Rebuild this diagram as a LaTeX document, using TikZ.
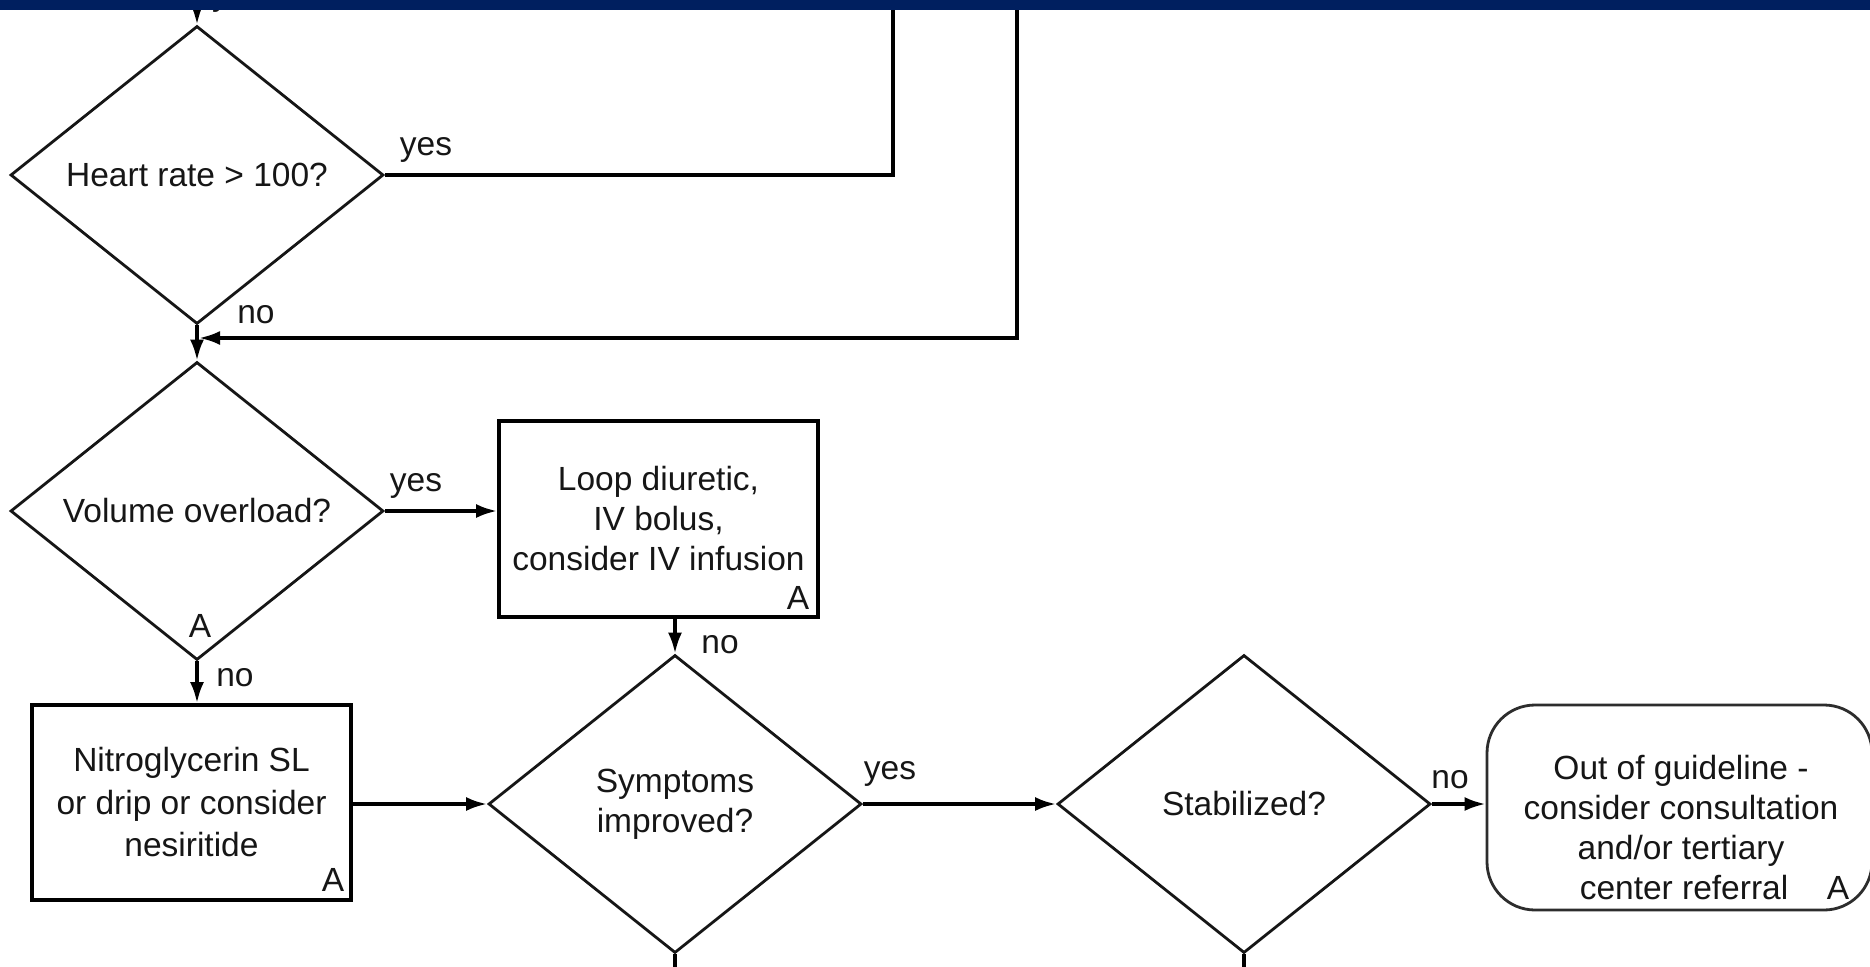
\documentclass[tikz,border=0pt]{standalone}
\usepackage{fontspec}
\setmainfont{Liberation Sans}
\usetikzlibrary{shapes.geometric,arrows.meta}
\definecolor{navy}{RGB}{0,31,95}
\definecolor{ink}{RGB}{22,22,22}
\begin{document}
\begin{tikzpicture}[x=1pt,y=-1pt,
  every node/.style={font=\fontsize{33.5}{40}\selectfont, text=ink},
  dec/.style={shape=diamond, draw=ink, line width=2.8pt, aspect=1.25,
    minimum width=373pt, minimum height=298pt, inner sep=0pt, align=center},
  proc/.style={draw=black, line width=3.8pt, inner sep=0pt, align=center},
  term/.style={draw=ink!90, line width=2.8pt, rounded corners=48pt, inner sep=0pt},
  conn/.style={line width=3.5pt, draw=black},
  arr/.style={conn, -{Latex[length=21pt,width=14pt]}},
  lbl/.style={inner sep=0pt},
]
\useasboundingbox (0,0) rectangle (1870,966);
\fill[white] (0,0) rectangle (1870,966);

% partial label hidden by the band
\node[lbl, anchor=base west] (yestop) at (212,6) {yes};

% decisions
\node[dec] (hr) at (197,175) {Heart rate > 100?};
\node[dec] (vo) at (197,511) {Volume overload?};
\node[dec] (si) at (675,804) {Symptoms\\improved?};
\node[dec] (st) at (1244,804) {Stabilized?};

% processes
\node[proc, minimum width=319pt, minimum height=196pt] (loop) at (658.5,519)
  {Loop diuretic,\\IV bolus,\\consider IV infusion};
\node[proc, minimum width=319pt, minimum height=195pt,
  font=\fontsize{33.5}{42.5}\selectfont] (nitro) at (191.5,802.5)
  {Nitroglycerin SL\\or drip or consider\\nesiritide};
\node[term, minimum width=385pt, minimum height=205pt] (term) at (1679.5,807.5) {};
\node[lbl, align=center] (termtext) at (1681,811)
  {Out of guideline -\\consider consultation\\and/or tertiary};
\node[lbl] (termlast) at (1684,888) {center referral};

% "A" marks
\node[lbl] (avo) at (200,626) {A};
\node[lbl] (aloop) at (798,598) {A};
\node[lbl] (anitro) at (333,880) {A};
\node[lbl] (aterm) at (1838,888) {A};

% helper coordinates
\coordinate (intop) at (197,0);
\coordinate (up1) at (893,0);
\coordinate (down2) at (1017,0);
\coordinate (merge) at (199,338);

% connectors
\draw[arr] (intop) -- (hr.north);
\draw[conn] (hr.east) -| (up1);
\draw[arr] (down2) |- (merge);
\draw[arr] (hr.south) -- (vo.north);
\draw[arr] (vo.east) -- (vo.east -| loop.west);
\draw[arr] (vo.south) -- (vo.south |- nitro.north);
\draw[arr] (loop.south -| si.north) -- (si.north);
\draw[arr] (nitro.east |- si.west) -- (si.west);
\draw[arr] (si.east) -- (st.west);
\draw[arr] (st.east) -- (st.east -| term.west);
\draw[conn] (si.south) -- ++(0,20);
\draw[conn] (st.south) -- ++(0,20);

% connector labels
\node[lbl] (yes1) at (426,150) {yes};
\node[lbl] (no1) at (256,315) {no};
\node[lbl] (yes2) at (416,486) {yes};
\node[lbl] (no2) at (235,678) {no};
\node[lbl] (no3) at (720,645) {no};
\node[lbl] (yes3) at (890,774) {yes};
\node[lbl] (no4) at (1450,780) {no};

% top band
\fill[navy] (0,0) rectangle (1870,10);
\end{tikzpicture}
\end{document}
